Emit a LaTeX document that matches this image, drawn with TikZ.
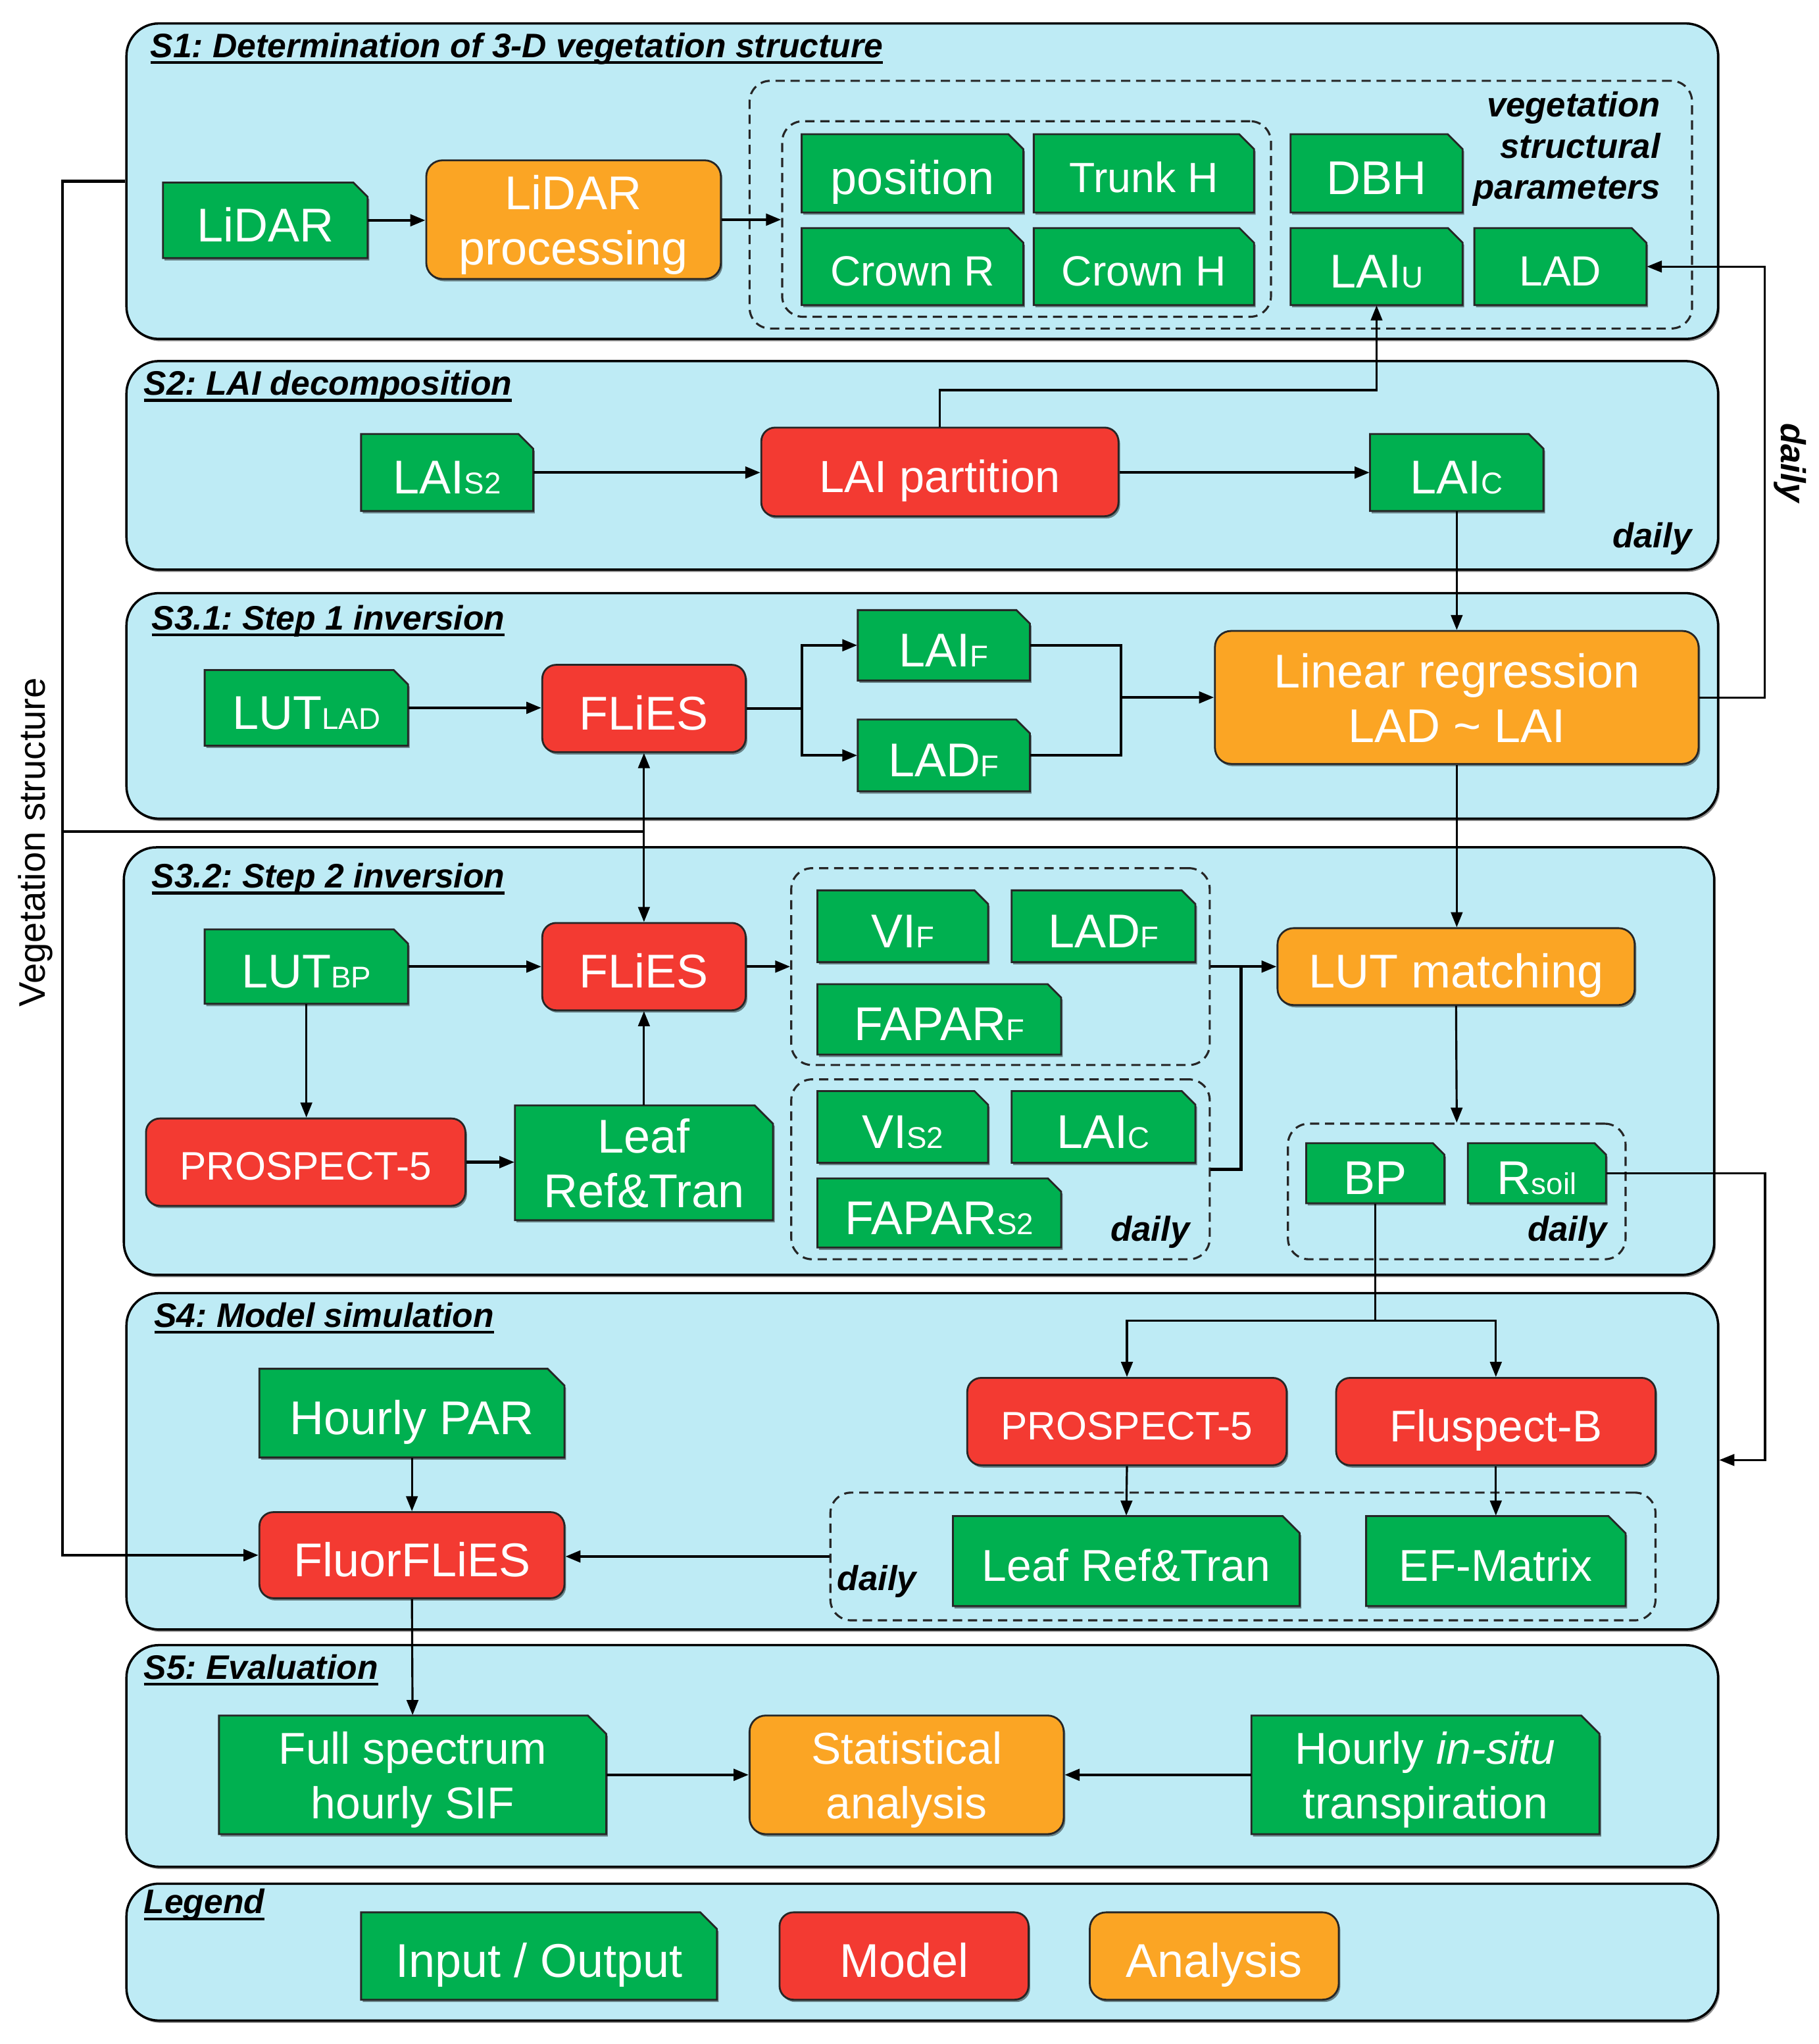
\documentclass[tikz,border=0pt]{standalone}
\usepackage{fontspec}
\setmainfont{Liberation Sans}
\usetikzlibrary{arrows.meta,shadows,calc}
\frenchspacing
\definecolor{secblue}{RGB}{190,235,245}
\definecolor{iogreen}{RGB}{0,176,80}
\definecolor{modred}{RGB}{243,58,50}
\definecolor{anaorange}{RGB}{251,165,36}
\newlength\un \setlength\un{0.1982mm}
\newcommand\fs[2]{\fontsize{#1}{#2}\selectfont}
\newcommand\sbs[1]{{\fontsize{13}{13}\selectfont #1}}
% single-line text, centred like the reference
\newcommand\ct[1]{\rule{0pt}{0.9em}\smash{#1}}
% two-line text
\newcommand\ml[2]{\rule{0pt}{0.74em}#1\\\smash{#2}}
% underline that crosses descenders
\newcommand\ul[1]{\setbox0\hbox{#1}\rlap{\rule[-2.9pt]{\wd0}{1.3pt}}\box0}
% generic box: style, name, x1, y1, x2, y2, text
\newcommand\bx[7]{\node[#1,minimum width={(#5-#3)*\un},minimum height={(#6-#4)*\un}] (#2) at ({(#3+#5)/2},{(#4+#6)/2}) {#7};}
% green input/output box with cut corner: [fontsize] name x1 y1 x2 y2 text
\newcommand\iobx[7][20.5]{%
  \pgfmathsetmacro\ch{min(14,0.19*(#6-#4))}%
  \filldraw[iobody] (#3,#4) -- ({#5-\ch},#4) -- (#5,{#4+\ch}) -- (#5,#6) -- (#3,#6) -- cycle;
  \node[iotext,font=\fs{#1}{23.7},minimum width={(#5-#3)*\un},minimum height={(#6-#4)*\un}] (#2) at ({(#3+#5)/2},{(#4+#6)/2}) {#7};}
\begin{document}
\begin{tikzpicture}[x=0.1982mm,y=-0.1982mm,font=\fs{20.5}{23.7},
  myshadow/.style={drop shadow={shadow xshift=0.7pt,shadow yshift=-1pt,opacity=0.45,fill=black}},
  sec/.style={draw=black,line width=1pt,fill=secblue,rounded corners=14pt,inner sep=0,myshadow},
  dbox/.style={draw=black!85,dash pattern=on 4pt off 2.5pt,line width=0.9pt,rounded corners=9pt,inner sep=0},
  iobody/.style={fill=iogreen,draw=black!85,line width=0.8pt,myshadow},
  iotext/.style={text=white,inner sep=0,align=center},
  model/.style={fill=modred,draw=black!85,line width=0.8pt,rounded corners=6pt,text=white,inner sep=0,align=center,myshadow},
  ana/.style={fill=anaorange,draw=black!85,line width=0.8pt,rounded corners=7pt,text=white,inner sep=0,align=center,myshadow},
  ttl/.style={anchor=base west,inner sep=0,font=\fs{14.7}{18}\bfseries\itshape},
  dly/.style={inner sep=0,font=\fs{15}{17.8}\bfseries\itshape},
  arr/.style={-{Triangle[length=6.5pt,width=5pt]},line width=0.9pt},
  harr/.style={arr,line width=1.2pt},
  ln/.style={line width=0.9pt}]
\useasboundingbox (0,0) rectangle (1395,1568);

% ---------- sections ----------
\bx{sec}{S1}{97}{18}{1318}{260}{}
\bx{sec}{S2}{97}{277}{1318}{437}{}
\bx{sec}{S31}{97}{455}{1318}{628}{}
\bx{sec}{S32}{95}{650}{1315}{978}{}
\bx{sec}{S4}{97}{992}{1318}{1250}{}
\bx{sec}{S5}{97}{1262}{1318}{1432}{}
\bx{sec}{LG}{97}{1445}{1318}{1550}{}

\node[ttl] (t1) at (115,44) {\ul{S1: Determination of 3-D vegetation structure}};
\node[ttl] (t2) at (110,303) {\ul{S2: LAI decomposition}};
\node[ttl] (t31) at (116,483) {\ul{S3.1: Step 1 inversion}};
\node[ttl] (t32) at (116,681) {\ul{S3.2: Step 2 inversion}};
\node[ttl] (t4) at (118,1018) {\ul{S4: Model simulation}};
\node[ttl] (t5) at (110,1288) {\ul{S5: Evaluation}};
\node[ttl] (tl) at (110,1468) {\ul{Legend}};

% ---------- dashed groups ----------
\bx{dbox}{dOut}{575}{62}{1298}{252}{}
\bx{dbox}{dIn}{600}{93}{975}{243}{}
\bx{dbox}{dA}{607}{666}{928}{817}{}
\bx{dbox}{dB}{607}{828}{928}{966}{}
\bx{dbox}{dC}{988}{862}{1247}{966}{}
\bx{dbox}{dD}{637}{1145}{1270}{1243}{}

% ---------- S1 ----------
\iobx{LiDAR}{125}{140}{282}{198}{\ct{LiDAR}}
\bx{ana}{LiDARp}{327}{123}{553}{214}{\ml{LiDAR}{processing}}
\iobx{pos}{615}{103}{785}{163}{\ct{position}}
\iobx[18.3]{trunk}{793}{103}{962}{163}{\ct{Trunk H}}
\iobx[18.3]{crownR}{615}{175}{785}{234}{\ct{Crown R}}
\iobx[18.3]{crownH}{793}{175}{962}{234}{\ct{Crown H}}
\iobx{DBH}{990}{103}{1122}{163}{\ct{DBH}}
\iobx{LAIu}{990}{175}{1122}{234}{\ct{LAI\sbs{U}}}
\iobx[18.3]{LAD}{1131}{175}{1263}{234}{\ct{LAD}}
\node[dly,align=right,anchor=north east] (vsp) at (1274,70) {vegetation\\structural\\parameters};

% ---------- S2 ----------
\iobx{LAIs2}{277}{333}{409}{392}{\ct{LAI\sbs{S2}}}
\bx{model,font=\fs{19.5}{23}}{LAIpart}{584}{328}{858}{396}{\ct{LAI partition}}
\iobx{LAIc}{1051}{333}{1184}{392}{\ct{LAI\sbs{C}}}
\node[dly,anchor=base east] (d2) at (1298,420) {daily};

% ---------- S3.1 ----------
\iobx{LUTLAD}{157}{514}{313}{572}{\ct{LUT\sbs{LAD}}}
\bx{model}{FLiES1}{416}{510}{572}{577}{\ct{FLiES}}
\iobx{LAIF}{658}{468}{790}{522}{\ct{LAI\sbs{F}}}
\iobx{LADF1}{658}{552}{790}{607}{\ct{LAD\sbs{F}}}
\bx{ana}{LinReg}{932}{484}{1303}{586}{\ml{Linear regression}{LAD \char"7E{} LAI}}

% ---------- S3.2 ----------
\iobx{LUTBP}{157}{713}{313}{770}{\ct{LUT\sbs{BP}}}
\bx{model}{FLiES2}{416}{708}{572}{775}{\ct{FLiES}}
\bx{model,font=\fs{17.2}{20}}{PROS1}{112}{858}{357}{925}{\ct{PROSPECT-5}}
\iobx{LeafRT1}{395}{848}{593}{936}{\ml{Leaf}{Ref\&Tran}}
\iobx{VIF}{627}{683}{758}{738}{\ct{VI\sbs{F}}}
\iobx{LADF2}{776}{683}{917}{738}{\ct{LAD\sbs{F}}}
\iobx{FAPARF}{627}{755}{814}{809}{\ct{FAPAR\sbs{F}}}
\iobx{VIs2}{627}{837}{758}{892}{\ct{VI\sbs{S2}}}
\iobx{LAIc2}{776}{837}{917}{892}{\ct{LAI\sbs{C}}}
\iobx{FAPARs2}{627}{904}{814}{957}{\ct{FAPAR\sbs{S2}}}
\node[dly,anchor=base east] (dB1) at (913,952) {daily};
\bx{ana}{LUTm}{980}{712}{1254}{771}{\ct{LUT matching}}
\iobx{BP}{1002}{877}{1108}{923}{\ct{BP}}
\iobx{Rsoil}{1126}{877}{1232}{923}{\ct{R\sbs{soil}}}
\node[dly,anchor=base east] (dC1) at (1233,952) {daily};

% ---------- S4 ----------
\iobx{HPAR}{199}{1050}{433}{1118}{\ct{Hourly PAR}}
\bx{model}{FluorF}{199}{1160}{433}{1226}{\ct{FluorFLiES}}
\bx{model,font=\fs{17.2}{20}}{PROS2}{742}{1057}{987}{1124}{\ct{PROSPECT-5}}
\bx{model,font=\fs{19.2}{22}}{Fluspect}{1025}{1057}{1270}{1124}{\ct{Fluspect-B}}
\iobx[19.3]{LeafRT2}{731}{1163}{997}{1232}{\ct{Leaf Ref\&Tran}}
\iobx[19.3]{EFM}{1048}{1163}{1247}{1232}{\ct{EF-Matrix}}
\node[dly,anchor=base west] (dD1) at (642,1220) {daily};

% ---------- S5 ----------
\iobx[19.3]{FullSIF}{168}{1316}{465}{1407}{\ml{Full spectrum}{hourly SIF}}
\bx{ana,font=\fs{19.3}{23.7}}{Stat}{575}{1316}{816}{1407}{\ml{Statistical}{analysis}}
\iobx[19.3]{HinSitu}{960}{1316}{1227}{1407}{\ml{Hourly \textit{in-situ}}{transpiration}}

% ---------- Legend ----------
\iobx{IO}{277}{1467}{550}{1534}{\ct{Input / Output}}
\bx{model}{Model}{598}{1467}{789}{1534}{\ct{Model}}
\bx{ana}{Analysis}{836}{1467}{1027}{1534}{\ct{Analysis}}

% ---------- side labels ----------
\node[inner sep=0,font=\fs{16}{18},rotate=90] (vs) at (27,646) {Vegetation structure};
\node[dly,rotate=-90] (dv) at (1373,355) {daily};

% ---------- connectors ----------
\draw[harr] (LiDAR.east) -- (LiDARp.west |- LiDAR.east);
\draw[harr] (LiDARp.east) -- (dIn.west |- LiDARp.east);
\draw[harr] (LAIs2.east) -- (LAIpart.west |- LAIs2.east);
\draw[harr] (LAIpart.east |- LAIc.west) -- (LAIc.west);
\draw[arr] (LAIpart.north) -- ++(0,-28) -| (LAIu.south);
\draw[arr] (LAIc.south) -- (LAIc.south |- LinReg.north);

\draw[harr] (LUTLAD.east) -- (FLiES1.west |- LUTLAD.east);
\coordinate (b1) at (615,543.5);
\draw[harr,-] (FLiES1.east) -- (b1);
\draw[harr] (b1) |- (LAIF.west);
\draw[harr] (b1) |- (LADF1.west);
\coordinate (b2) at (860,535);
\draw[harr,-] (LAIF.east) -| (b2);
\draw[harr,-] (LADF1.east) -| (b2);
\draw[harr] (b2) -- (LinReg.west);
\draw[arr] (LinReg.east) -- ++(50,0) |- (LAD.east);
\draw[arr] (LinReg.south) -- (LinReg.south |- LUTm.north);

\draw[harr] (LUTBP.east) -- (FLiES2.west |- LUTBP.east);
\draw[harr] (FLiES2.east) -- (dA.west |- FLiES2.east);
\draw[harr] (dA.east) -- (LUTm.west |- dA.east);
\coordinate (j1) at (952,741.5);
\draw[harr,-] (dB.east) -| (j1);
\draw[arr] (LUTBP.south) -- (LUTBP.south |- PROS1.north);
\draw[harr] (PROS1.east) -- (LeafRT1.west |- PROS1.east);
\draw[arr] (LeafRT1.north) -- (FLiES2.south);
\draw[arr,{Triangle[length=6.5pt,width=5pt]}-{Triangle[length=6.5pt,width=5pt]}] (FLiES1.south) -- (FLiES2.north);
\draw[arr] (LUTm.south) -- (dC.north);

\coordinate (vl) at (48,1193);
\draw[arr,line width=1.3pt] (S1.west) -| (vl) -- (FluorF.west);
\coordinate (vm) at (48,638);
\draw[ln,line width=1.2pt] (vm) -- (FLiES1.south |- vm);

\coordinate (r1) at (1354,1120);
\draw[arr] (Rsoil.east) -| (r1) -- (S4.east |- r1);
\coordinate (bp1) at (1055,1013);
\draw[ln] (BP.south) -- (bp1);
\draw[arr] (bp1) -| (PROS2.north);
\draw[arr] (bp1) -| (Fluspect.north);
\draw[arr] (PROS2.south) -- (LeafRT2.north);
\draw[arr] (Fluspect.south) -- (EFM.north);
\draw[arr] (HPAR.south) -- (FluorF.north);
\draw[harr] (dD.west) -- (FluorF.east |- dD.west);
\draw[arr] (FluorF.south) -- (FullSIF.north);

\draw[harr] (FullSIF.east) -- (Stat.west);
\draw[harr] (HinSitu.west) -- (Stat.east);
\end{tikzpicture}
\end{document}
